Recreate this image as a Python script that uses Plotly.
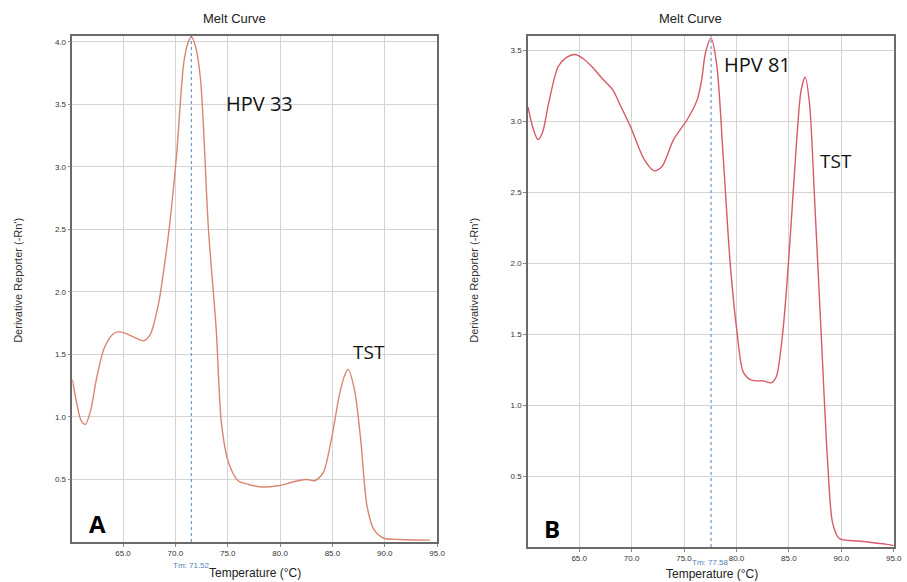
import plotly.graph_objects as go

# ---- Data ----
temp_a = [60.16, 60.6, 61.0, 61.4, 61.9, 62.5, 63.2, 64.0, 64.5, 65.2, 66.0, 67.0, 67.6, 68.4, 68.9,
          69.4, 70.1, 70.8, 71.2, 71.52, 71.9, 72.4, 73.16, 73.9, 74.4, 75.06, 76.0, 77.0, 78.2,
          79.8, 80.8, 81.7, 82.6, 83.3, 84.1, 84.9, 85.7, 86.2, 86.5, 87.1, 87.7, 88.3, 88.96,
          89.9, 91.5, 94.3]
deriv_a = [1.30, 1.10, 0.97, 0.94, 1.05, 1.32, 1.55, 1.66, 1.68, 1.67, 1.64, 1.61, 1.66, 1.91, 2.18,
           2.50, 3.08, 3.83, 3.99, 4.04, 3.97, 3.70, 2.50, 1.70, 0.95, 0.64, 0.49, 0.46, 0.44,
           0.45, 0.47, 0.49, 0.50, 0.49, 0.55, 0.82, 1.19, 1.34, 1.38, 1.22, 0.82, 0.29, 0.10,
           0.03, 0.02, 0.015]

temp_b = [60.12, 60.6, 61.07, 61.5, 62.1, 63.0, 63.8, 64.6, 65.4, 66.2, 67.2, 68.2, 69.0, 69.9, 71.2,
          72.15, 72.9, 74.0, 75.3, 76.25, 76.7, 77.04, 77.57, 78.1, 78.77, 79.4, 80.03, 80.66,
          81.44, 82.55, 83.33, 83.8, 84.44, 85.07, 85.7, 86.17, 86.55, 86.96, 87.44, 88.06, 88.7,
          89.17, 89.8, 91.7, 94.2, 95.0]
deriv_b = [3.10, 2.95, 2.87, 2.92, 3.13, 3.385, 3.45, 3.47, 3.44, 3.385, 3.30, 3.22, 3.10, 2.96, 2.73,
           2.65, 2.68, 2.87, 3.01, 3.15, 3.30, 3.48, 3.585, 3.41, 2.71, 2.00, 1.53, 1.23,
           1.175, 1.17, 1.157, 1.20, 1.53, 2.12, 2.82, 3.22, 3.31, 3.13, 2.47, 1.53, 0.594,
           0.17, 0.06, 0.042, 0.02, 0.01]

tm_a = [71.52]
tm_b = [77.58]
x_ticks = [65.0, 70.0, 75.0, 80.0, 85.0, 90.0, 95.0]
y_ticks_a = [0.5, 1.0, 1.5, 2.0, 2.5, 3.0, 3.5, 4.0]
y_ticks_b = [0.5, 1.0, 1.5, 2.0, 2.5, 3.0, 3.5]

W, H = 907, 582
FONT = "Liberation Sans, Arial, sans-serif"

def px(xp):
    return xp / W

def py(yp):
    return 1 - yp / H

fig = go.Figure()
fig.add_trace(go.Scatter(x=temp_a, y=deriv_a, mode="lines", xaxis="x", yaxis="y",
                         line=dict(color="#d9866f", width=1.4, shape="spline", smoothing=0.8),
                         showlegend=False, hoverinfo="skip"))
fig.add_trace(go.Scatter(x=temp_b, y=deriv_b, mode="lines", xaxis="x2", yaxis="y2",
                         line=dict(color="#d65a68", width=1.4, shape="spline", smoothing=0.8),
                         showlegend=False, hoverinfo="skip"))

axis_common = dict(showline=True, linecolor="#6a6a6a", linewidth=1.5, mirror=True,
                   showgrid=True, gridcolor="#d4d4d4", gridwidth=1, zeroline=False,
                   ticks="outside", ticklen=3, tickcolor="#888", tickwidth=1,
                   tickfont=dict(family=FONT, size=8, color="#333"), tickformat=".1f")

fig.update_layout(
    width=W, height=H, margin=dict(l=0, r=0, t=0, b=0),
    paper_bgcolor="white", plot_bgcolor="white",
    xaxis=dict(domain=[px(73), px(441)], range=[60.16, 95.0], tickvals=x_ticks, anchor="y", **axis_common),
    yaxis=dict(domain=[py(542), py(36)], range=[0, 4.046], tickvals=y_ticks_a, anchor="x", **axis_common),
    xaxis2=dict(domain=[px(532.7), px(901.7)], range=[60.12, 95.0], tickvals=x_ticks, anchor="y2", **axis_common),
    yaxis2=dict(domain=[py(547), py(36)], range=[0, 3.60], tickvals=y_ticks_b, anchor="x2", **axis_common),
)

# Tm dashed lines
for t, xr, yr in [(tm_a[0], "x", "y domain"), (tm_b[0], "x2", "y2 domain")]:
    fig.add_shape(type="line", xref=xr, yref=yr, x0=t, x1=t, y0=0, y1=1,
                  line=dict(color="#4f86c6", width=1, dash="dot"))

ann = []
def text(x, y, s, size, color="#111", bold=False, angle=0, family=FONT):
    ann.append(dict(x=px(x), y=py(y), xref="paper", yref="paper", text=("<b>%s</b>" % s) if bold else s,
                    showarrow=False, xanchor="center", yanchor="middle", textangle=angle,
                    font=dict(family=family, size=size, color=color)))

text(237, 19, "Melt Curve", 13, "#222")
text(697, 19, "Melt Curve", 13, "#222")
text(257, 573, "Temperature (°C)", 12, "#222")
text(718, 574, "Temperature (°C)", 12, "#222")
text(18, 280, "Derivative Reporter (-Rn')", 11, "#333", angle=-90)
text(478, 280, "Derivative Reporter (-Rn')", 11, "#333", angle=-90)
text(193, 565, "Tm: %.2f" % tm_a[0], 8, "#4f7fb8")
text(717, 562, "Tm: %.2f" % tm_b[0], 8, "#4f7fb8")
CAL = "Open Sans, Noto Sans, sans-serif"
text(262, 103, "HPV 33", 20, "#111", family=CAL)
text(372, 352, "TST", 19, "#111", family=CAL)
text(764, 64, "HPV 81", 20, "#111", family=CAL)
text(843, 161, "TST", 19, "#111", family=CAL)
text(98, 523, "A", 24, "#000", bold=True, family=CAL)
text(557, 528, "B", 24, "#000", bold=True, family=CAL)

fig.update_layout(annotations=ann)
fig.write_html("out.html")
